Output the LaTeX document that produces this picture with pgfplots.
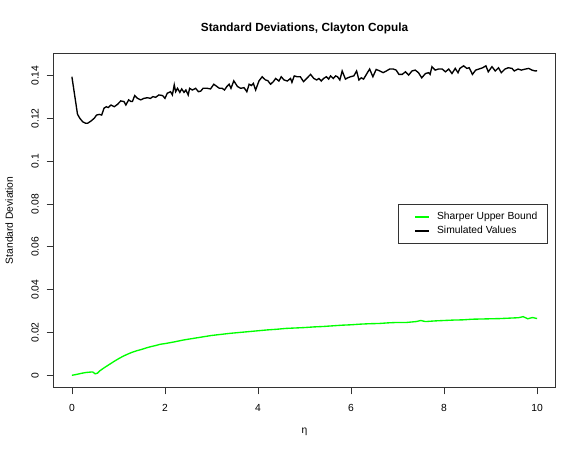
\documentclass[border=0pt]{standalone}
\usepackage{fontspec}
\setmainfont{Liberation Sans}
\usepackage{pgfplots}
\pgfplotsset{compat=1.18}
\definecolor{rgreen}{RGB}{0,255,0}
\pgfplotstableread{
x y
0.00 0.1395
0.12 0.1220
0.17 0.1201
0.23 0.1185
0.29 0.1178
0.34 0.1178
0.41 0.1188
0.48 0.1201
0.53 0.1216
0.59 0.1219
0.64 0.1216
0.69 0.1248
0.74 0.1255
0.78 0.1251
0.84 0.1263
0.91 0.1255
0.98 0.1266
1.05 0.1282
1.12 0.1279
1.16 0.1263
1.22 0.1287
1.27 0.1279
1.30 0.1279
1.35 0.1307
1.41 0.1294
1.48 0.1287
1.55 0.1294
1.62 0.1297
1.69 0.1294
1.74 0.1302
1.80 0.1299
1.87 0.1310
1.95 0.1307
2.00 0.1294
2.05 0.1318
2.12 0.1325
2.16 0.1310
2.20 0.1357
2.23 0.1325
2.27 0.1341
2.32 0.1322
2.36 0.1338
2.41 0.1322
2.45 0.1333
2.50 0.1310
2.53 0.1341
2.59 0.1333
2.66 0.1341
2.72 0.1325
2.77 0.1328
2.82 0.1341
2.91 0.1341
2.98 0.1338
3.05 0.1360
3.12 0.1349
3.17 0.1341
3.23 0.1341
3.28 0.1333
3.33 0.1349
3.38 0.1360
3.42 0.1341
3.48 0.1376
3.56 0.1349
3.63 0.1341
3.70 0.1344
3.76 0.1325
3.81 0.1360
3.86 0.1354
3.90 0.1364
3.95 0.1333
4.02 0.1375
4.09 0.1395
4.16 0.1380
4.21 0.1377
4.27 0.1360
4.33 0.1372
4.38 0.1387
4.45 0.1375
4.50 0.1395
4.56 0.1380
4.63 0.1375
4.70 0.1387
4.73 0.1369
4.78 0.1399
4.84 0.1395
4.91 0.1395
4.98 0.1372
5.06 0.1390
5.13 0.1406
5.20 0.1387
5.26 0.1380
5.31 0.1387
5.36 0.1375
5.41 0.1387
5.47 0.1395
5.52 0.1384
5.56 0.1399
5.62 0.1387
5.67 0.1399
5.71 0.1395
5.76 0.1380
5.81 0.1422
5.88 0.1384
5.93 0.1390
5.99 0.1395
6.06 0.1399
6.12 0.1422
6.17 0.1380
6.22 0.1390
6.27 0.1384
6.33 0.1406
6.40 0.1431
6.47 0.1395
6.54 0.1429
6.62 0.1422
6.69 0.1414
6.76 0.1422
6.83 0.1431
6.91 0.1431
6.97 0.1426
7.03 0.1406
7.10 0.1406
7.17 0.1418
7.24 0.1403
7.31 0.1422
7.38 0.1426
7.45 0.1414
7.52 0.1390
7.60 0.1410
7.67 0.1414
7.70 0.1406
7.74 0.1442
7.81 0.1426
7.88 0.1431
7.96 0.1431
8.03 0.1418
8.10 0.1431
8.17 0.1410
8.24 0.1434
8.30 0.1414
8.34 0.1434
8.42 0.1446
8.49 0.1434
8.54 0.1437
8.61 0.1406
8.68 0.1426
8.75 0.1431
8.83 0.1437
8.90 0.1446
8.95 0.1418
9.03 0.1442
9.10 0.1422
9.17 0.1437
9.23 0.1414
9.31 0.1431
9.38 0.1437
9.46 0.1434
9.51 0.1422
9.59 0.1431
9.66 0.1426
9.75 0.1431
9.82 0.1434
9.89 0.1426
9.96 0.1422
10.00 0.1423
}\simulated
\pgfplotstableread{
x y
0.00 0.0000
0.10 0.0004
0.20 0.0009
0.30 0.0013
0.40 0.0015
0.45 0.0015
0.50 0.0007
0.55 0.0010
0.60 0.0021
0.70 0.0036
0.80 0.0050
0.90 0.0064
1.00 0.0077
1.10 0.0089
1.20 0.0099
1.30 0.0108
1.40 0.0115
1.50 0.0121
1.60 0.0128
1.70 0.0134
1.80 0.0139
1.90 0.0145
2.00 0.0148
2.20 0.0156
2.40 0.0165
2.60 0.0172
2.80 0.0179
3.00 0.0186
3.20 0.0191
3.40 0.0196
3.60 0.0200
3.80 0.0204
4.00 0.0208
4.20 0.0212
4.40 0.0215
4.60 0.0219
4.80 0.0221
5.00 0.0223
5.20 0.0226
5.40 0.0228
5.60 0.0231
5.80 0.0234
6.00 0.0236
6.20 0.0239
6.40 0.0241
6.60 0.0242
6.80 0.0245
7.00 0.0247
7.20 0.0247
7.40 0.0251
7.50 0.0256
7.60 0.0251
7.80 0.0254
8.00 0.0256
8.20 0.0258
8.40 0.0259
8.60 0.0262
8.80 0.0263
9.00 0.0264
9.20 0.0265
9.40 0.0267
9.60 0.0269
9.70 0.0274
9.80 0.0264
9.90 0.0270
10.00 0.0265
}\bound
\begin{document}
\begin{tikzpicture}
\useasboundingbox (0,0) rectangle (583pt,454pt);
\begin{axis}[
  at={(53.3pt,66.3pt)}, anchor=south west,
  scale only axis, width=502.4pt, height=334.7pt,
  xmin=-0.4, xmax=10.4, ymin=-0.0058, ymax=0.1506,
  xtick={0,2,4,6,8,10},
  ytick={0,0.02,0.04,0.06,0.08,0.1,0.12,0.14},
  yticklabels={0,0.02,0.04,0.06,0.08,0.1,0.12,0.14},
  scaled y ticks=false, scaled x ticks=false,
  xtick pos=bottom, ytick pos=left,
  tick align=outside, major tick length=6.7pt,
  tick style={black!80, line width=0.8pt},
  axis line style={black!80, line width=0.8pt},
  /pgf/number format/assume math mode=true,
  ticklabel style={font=\fontsize{10.3}{12}\selectfont},
  xticklabel style={anchor=base},
  yticklabel style={rotate=90, anchor=base},
  xticklabel shift=17pt,
  yticklabel shift=8pt,
  title={Standard Deviations, Clayton Copula},
  title style={font=\fontsize{11.8}{14}\selectfont\bfseries, at={(axis description cs:0.5,1.0448)}, anchor=base},
  xlabel={η},
  xlabel style={font=\fontsize{10.3}{12}\selectfont, at={(axis description cs:0.5,-0.1383)}, anchor=base},
  ylabel={Standard Deviation},
  ylabel style={font=\fontsize{10.3}{12}\selectfont, at={(axis description cs:-0.0806,0.5)}, anchor=base},
  legend style={at={(axis description cs:0.6867,0.5489)}, anchor=north west,
    draw=black!80, line width=0.8pt, inner xsep=10pt, inner ysep=5.65pt,
    row sep=0pt, column sep=0pt,
    font=\fontsize{10.3}{12}\selectfont,
    nodes={inner xsep=0pt, inner ysep=2.25pt, text height=7.5pt, text depth=2pt}},
  legend cell align=left,
  legend image code/.code={\path[draw=none] (0pt,0pt) -- (28.4pt,0pt); \draw[#1] (6.7pt,0pt) -- (20pt,0pt);},
]
\addplot[rgreen, line width=1.35pt] table[x=x,y=y] {\bound};
\addlegendentry{Sharper Upper Bound}
\addplot[black, line width=1.35pt] table[x=x,y=y] {\simulated};
\addlegendentry{Simulated Values}
\end{axis}
\end{tikzpicture}
\end{document}
